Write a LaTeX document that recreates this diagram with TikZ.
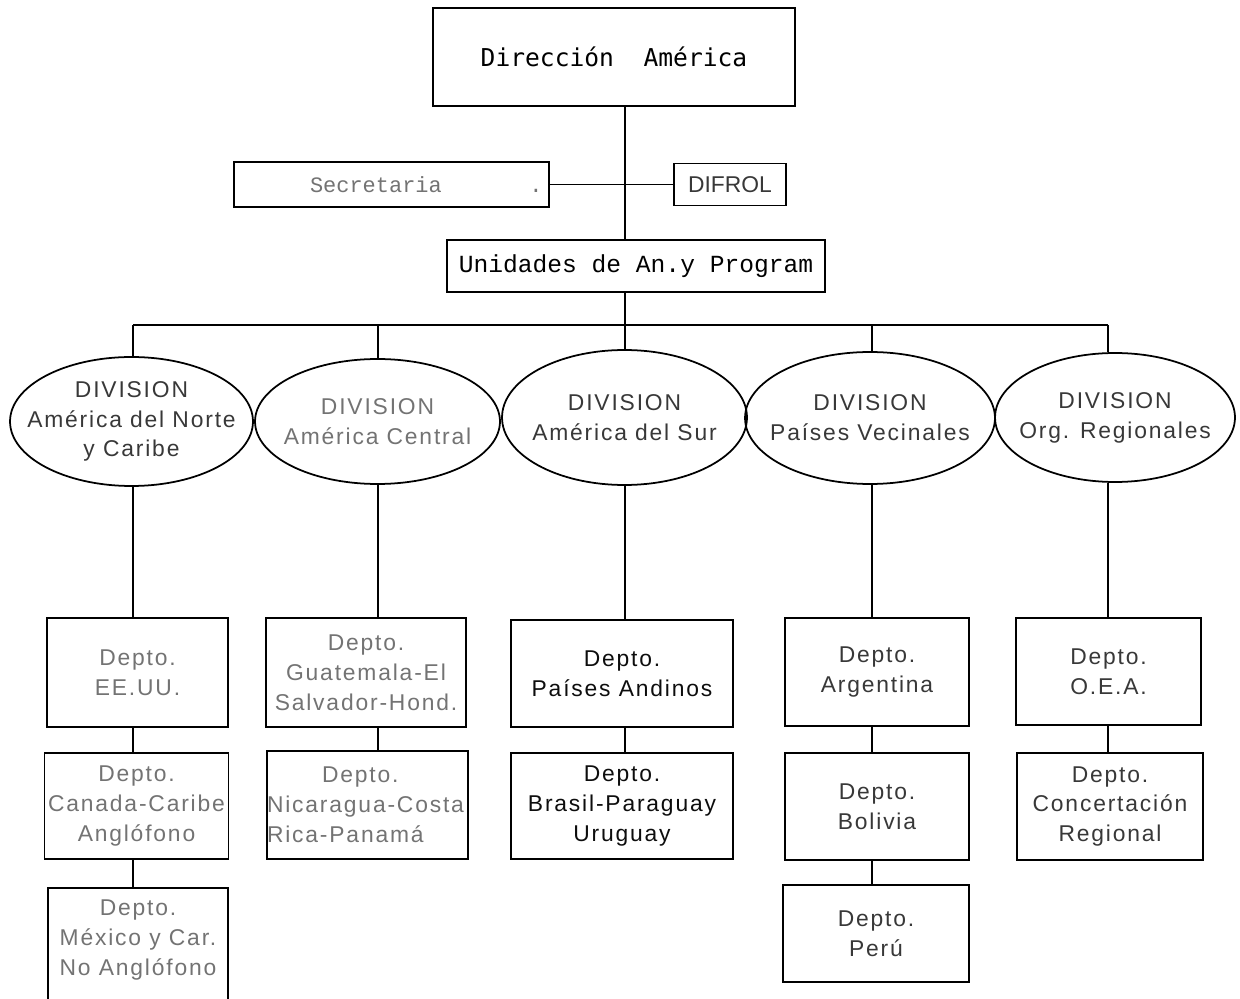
\documentclass[tikz,border=0pt]{standalone}
\usepackage{fontspec}
\usetikzlibrary{shapes.geometric}
\setmainfont{Liberation Sans}
\newfontfamily\deptfont{Liberation Sans}[LetterSpace=8]
\newfontfamily\typefont{Liberation Mono}
\newfontfamily\headfont{DejaVu Sans Mono}
\definecolor{inkpale}{gray}{0.45}
\definecolor{inkmid}{gray}{0.22}
\definecolor{inkdark}{gray}{0.05}
\tikzset{
	link/.style={line width=1pt},
	deptbox/.style={draw, line width=1pt, align=center, inner sep=2pt, text=inkmid, font=\deptfont\fontsize{13}{17}\selectfont},
	division/.style={draw, ellipse, line width=1pt, inner sep=0pt},
	every label/.style={align=center, text=inkmid, font=\deptfont\fontsize{13}{17}\selectfont},
}
\begin{document}
\begin{tikzpicture}[x=0.02cm, y=-0.02cm]
	\useasboundingbox (0,0) rectangle (1240,999);
	\node[draw, line width=1pt, minimum width=7.24cm, minimum height=1.96cm, font=\headfont\fontsize{14}{17}\selectfont] (0) at (614, 57) {Dirección\ \ América};
	\node[draw, line width=1pt, text width=6.3cm, inner xsep=0pt, minimum height=0.9cm, align=left, text=inkpale, font=\typefont\fontsize{12.5}{15}\selectfont] (1) at (391.5, 184.5) {\hspace*{1.52cm}Secretaria\hspace{1.75cm}.};
	\node[draw, line width=1pt, minimum width=2.24cm, minimum height=0.84cm, inner sep=0pt, text=inkmid, font=\fontsize{13}{15}\selectfont] (2) at (730, 184.5) {DIFROL};
	\node[draw, line width=1pt, minimum width=7.56cm, minimum height=1.04cm, font=\typefont\fontsize{14}{17}\selectfont] (3) at (636, 266) {Unidades de An.y Program};
	\node[division, minimum width=4.86cm, minimum height=2.58cm, label={center:DIVISION\\América del Norte\\y Caribe}] (4) at (131.5, 421.5) {};
	\node[division, minimum width=4.9cm, minimum height=2.5cm, label={[text=inkpale]center:DIVISION\\América Central}] (5) at (377.5, 421.5) {};
	\node[division, minimum width=4.9cm, minimum height=2.7cm, label={center:DIVISION\\América del Sur}] (6) at (624.5, 417.5) {};
	\node[division, minimum width=5cm, minimum height=2.64cm, label={center:DIVISION\\Países Vecinales}] (7) at (870, 418) {};
	\node[division, minimum width=4.8cm, minimum height=2.58cm, label={center:DIVISION\\Org. Regionales}] (8) at (1115, 417.5) {};
	\node[deptbox, text=inkpale, minimum width=3.62cm, minimum height=2.18cm] (9) at (137.5, 672.5) {Depto.\\EE.UU.};
	\node[deptbox, text=inkpale, minimum width=3.66cm, minimum height=2.12cm] (10) at (136.5, 806) {Depto.\\Canada-Caribe\\Anglófono};
	\node[deptbox, text=inkpale, minimum width=3.6cm, minimum height=2.6cm, anchor=north] (11) at (138, 887) {Depto.\\México y Car.\\No Anglófono\\\mbox{}};
	\node[deptbox, text=inkpale, minimum width=4cm, minimum height=2.18cm] (12) at (366, 672.5) {Depto.\\Guatemala-El\\Salvador-Hond.};
	\node[deptbox, text=inkpale, text width=4.02cm, inner xsep=0pt, align=left, minimum height=2.16cm] (13) at (367.5, 805) {\hspace*{1.1cm}Depto.\\Nicaragua-Costa\\Rica-Panamá};
	\node[deptbox, text=inkdark, minimum width=4.44cm, minimum height=2.14cm] (14) at (622, 673.5) {Depto.\\Países Andinos};
	\node[deptbox, text=inkdark, minimum width=4.44cm, minimum height=2.12cm] (15) at (622, 806) {Depto.\\Brasil-Paraguay\\Uruguay};
	\node[deptbox, minimum width=3.68cm, minimum height=2.16cm] (16) at (877, 672) {Depto.\\Argentina};
	\node[deptbox, minimum width=3.68cm, minimum height=2.14cm] (17) at (877, 806.5) {Depto.\\Bolivia};
	\node[deptbox, minimum width=3.72cm, minimum height=1.94cm] (18) at (876, 933.5) {Depto.\\Perú};
	\node[deptbox, minimum width=3.7cm, minimum height=2.14cm] (19) at (1108.5, 671.5) {Depto.\\O.E.A.};
	\node[deptbox, minimum width=3.72cm, minimum height=2.14cm] (20) at (1110, 806.5) {Depto.\\Concertación\\Regional};
	\coordinate (21) at (133, 325);
	\coordinate (22) at (378, 325);
	\coordinate (23) at (625, 325);
	\coordinate (24) at (872, 325);
	\coordinate (25) at (1108, 325);
	\draw[link] (0.south -| 23) to (3.north -| 23);
	\draw[link] (1.east) to (2.west);
	\draw[link] (3.south -| 23) to (23);
	\draw[link] (21) to (25);
	\draw[link] (21) to (4.north -| 21);
	\draw[link] (22) to (5.north -| 22);
	\draw[link] (23) to (6.north -| 23);
	\draw[link] (24) to (7.north -| 24);
	\draw[link] (25) to (8.north -| 25);
	\draw[link] (4.south -| 21) to (9.north -| 21);
	\draw[link] (9.south -| 21) to (10.north -| 21);
	\draw[link] (10.south -| 21) to (11.north -| 21);
	\draw[link] (5.south -| 22) to (12.north -| 22);
	\draw[link] (12.south -| 22) to (13.north -| 22);
	\draw[link] (6.south -| 23) to (14.north -| 23);
	\draw[link] (14.south -| 23) to (15.north -| 23);
	\draw[link] (7.south -| 24) to (16.north -| 24);
	\draw[link] (16.south -| 24) to (17.north -| 24);
	\draw[link] (17.south -| 24) to (18.north -| 24);
	\draw[link] (8.south -| 25) to (19.north -| 25);
	\draw[link] (19.south -| 25) to (20.north -| 25);
\end{tikzpicture}
\end{document}
